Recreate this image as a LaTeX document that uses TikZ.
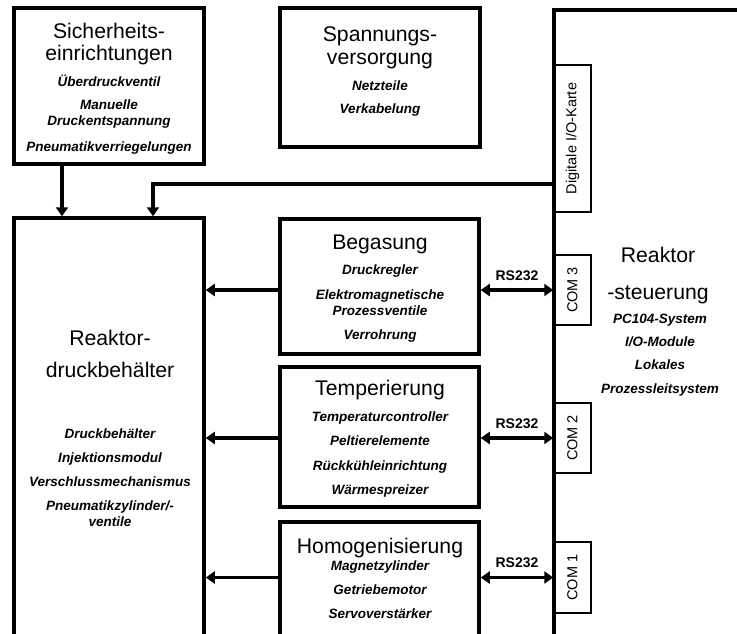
\documentclass[tikz,border=0pt]{standalone}
\usepackage{fontspec}
\setmainfont{Liberation Sans}
\usetikzlibrary{arrows.meta}

\tikzset{
	block/.style={draw, line width=3.5pt, inner sep=0},
	karte/.style={draw, line width=1.5pt, minimum width=37pt, inner sep=0, font=\fontsize{14.5}{16}\selectfont},
	titel/.style={anchor=base, align=center, inner sep=0, font=\fontsize{21.2}{22.4}\selectfont},
	posten/.style={anchor=base, align=center, inner sep=0, font=\fontsize{13.5}{16.3}\selectfont\bfseries\itshape},
	pfeil/.style={line width=3.5pt, -{Triangle[length=9pt,width=12pt]}},
	bus/.style={line width=3.5pt, {Triangle[length=9pt,width=12pt]}-{Triangle[length=9pt,width=12pt]}},
	rs/.style={font=\fontsize{14}{16}\selectfont\bfseries, inner sep=0, above=8pt},
}

\begin{document}
\begin{tikzpicture}[x=1pt, y=-1pt]

	\useasboundingbox (0,0) rectangle (737,633);
	\clip (0,0) rectangle (737,633);

	% Sicherheitseinrichtungen
	\node[block, minimum width=190pt, minimum height=156pt] (sicher) at (109,86) {};
	\node[titel] (sichertitel) at (109,60.7) {Sicherheits-\\einrichtungen};
	\node[posten] (sicherposten) at (109,151.7) {\"Uberdruckventil\\[6.5pt]Manuelle\\Druckentspannung\\[9.5pt]Pneumatikverriegelungen};

	% Spannungsversorgung
	\node[block, minimum width=200pt, minimum height=139pt] (spannung) at (380,77.5) {};
	\node[titel] (spannungtitel) at (380,64) {Spannungs-\\versorgung};
	\node[posten] (spannungposten) at (380,113) {Netzteile\\[6.7pt]Verkabelung};

	% Reaktordruckbehaelter
	\node[block, minimum width=190pt, minimum height=442pt] (rdb) at (109,439) {};
	\node[titel] (rdbtitel) at (110,377.7) {Reaktor-\\[9.6pt]druckbeh\"alter};
	\node[posten] (rdbposten) at (110,526.7) {Druckbeh\"alter\\[7.3pt]Injektionsmodul\\[7.7pt]Verschlussmechanismus\\[8pt]Pneumatikzylinder/-\\ventile};

	% Begasung
	\node[block, minimum width=199pt, minimum height=135pt] (begas) at (379.5,286.5) {};
	\node[titel] (begastitel) at (380,249.3) {Begasung};
	\node[posten] (begasposten) at (380,339.3) {Druckregler\\[8.5pt]Elektromagnetische\\Prozessventile\\[7.3pt]Verrohrung};

	% Temperierung
	\node[block, minimum width=199pt, minimum height=140pt] (temp) at (379.5,437) {};
	\node[titel] (temptitel) at (380,395) {Temperierung};
	\node[posten] (tempposten) at (380,494.3) {Temperaturcontroller\\[8pt]Peltierelemente\\[8pt]R\"uckk\"uhleinrichtung\\[8pt]W\"armespreizer};

	% Homogenisierung
	\node[block, minimum width=199pt, minimum height=138pt] (homog) at (379.5,591) {};
	\node[titel] (homogtitel) at (380,553.3) {Homogenisierung};
	\node[posten] (homogposten) at (380,618.3) {Magnetzylinder\\[7.7pt]Getriebemotor\\[7.7pt]Servoverst\"arker};

	% Reaktorsteuerung
	\node[block, minimum width=246pt, minimum height=650pt] (steuer) at (677,335) {};
	\node[titel] (steuertitel) at (658,299.3) {Reaktor\\[14pt]-steuerung};
	\node[posten] (steuerposten) at (660,393) {PC104-System\\[7pt]I/O-Module\\[7pt]Lokales\\[7pt]Prozessleitsystem};

	% Schnittstellen
	\node[karte, minimum height=147pt] (dio) at (572.5,138.5) {\rotatebox{90}{Digitale I/O-Karte}};
	\node[karte, minimum height=70pt] (com3) at (572.5,290) {\rotatebox{90}{COM 3}};
	\node[karte, minimum height=70pt] (com2) at (572.5,438) {\rotatebox{90}{COM 2}};
	\node[karte, minimum height=71pt] (com1) at (572.5,577.5) {\rotatebox{90}{COM 1}};

	% Sicherheit und digitale Ausgaenge
	\coordinate (sx) at (62,0);
	\coordinate (knick) at (153,184);
	\draw[pfeil] (sicher.south -| sx) -- (rdb.north -| sx);
	\draw[pfeil] (steuer.west |- knick) -| (rdb.north -| knick);

	% RS232 und Stellglieder
	\foreach \b/\c in {begas/com3, temp/com2, homog/com1} {
		\draw[pfeil] (\b.west |- \c.west) -- (rdb.east |- \c.west);
		\draw[bus] (\b.east |- \c.west) -- node[rs] {RS232} (\c.west);
	}

\end{tikzpicture}
\end{document}
